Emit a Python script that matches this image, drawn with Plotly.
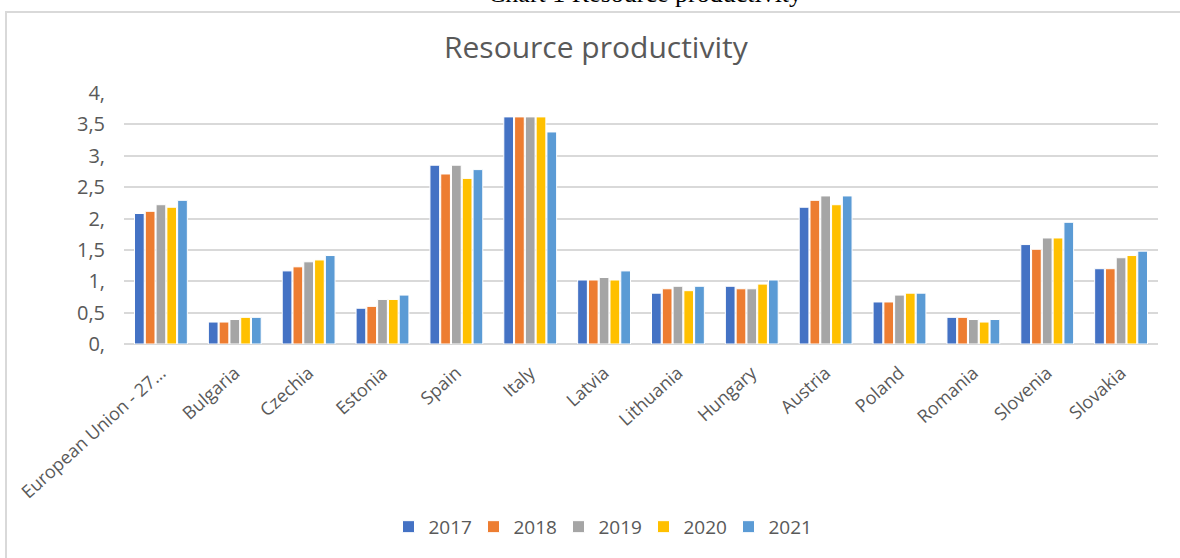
import plotly.graph_objects as go

# Resource productivity by country, 2017-2021
countries = ["European Union - 27…", "Bulgaria", "Czechia", "Estonia", "Spain", "Italy",
             "Latvia", "Lithuania", "Hungary", "Austria", "Poland", "Romania",
             "Slovenia", "Slovakia"]
years = ["2017", "2018", "2019", "2020", "2021"]

v2017 = [2.08, 0.35, 1.165, 0.57, 2.85, 3.62, 1.02, 0.81, 0.92, 2.18, 0.67, 0.425, 1.585, 1.20]
v2018 = [2.115, 0.35, 1.23, 0.60, 2.71, 3.62, 1.02, 0.88, 0.88, 2.29, 0.67, 0.425, 1.51, 1.20]
v2019 = [2.22, 0.39, 1.31, 0.71, 2.85, 3.62, 1.06, 0.92, 0.88, 2.36, 0.78, 0.39, 1.69, 1.375]
v2020 = [2.18, 0.425, 1.34, 0.71, 2.64, 3.62, 1.02, 0.85, 0.955, 2.22, 0.81, 0.35, 1.69, 1.41]
v2021 = [2.29, 0.425, 1.41, 0.78, 2.78, 3.38, 1.165, 0.92, 1.02, 2.36, 0.81, 0.39, 1.94, 1.48]

series = [v2017, v2018, v2019, v2020, v2021]
colors = ["#4472C4", "#ED7D31", "#A5A5A5", "#FFC000", "#5B9BD5"]

y_ticks = [0, 0.5, 1, 1.5, 2, 2.5, 3, 3.5, 4]
y_ticktext = ["0,", "0,5", "1,", "1,5", "2,", "2,5", "3,", "3,5", "4,"]

W, H = 1180, 558
L, R, T, B = 124, 22, 93, 211
pw, ph = W - L - R, H - T - B


def px_x(x):
    return (x - L) / pw


def px_y(y):
    return (H - B - y) / ph


text_col = "#595959"
grid_col = "#D9D9D9"

fig = go.Figure()
for name, vals, col in zip(years, series, colors):
    fig.add_trace(go.Bar(
        x=countries, y=vals, name=name,
        marker=dict(color=col, line=dict(color="white", width=1)),
    ))

fig.update_layout(
    width=W, height=H,
    margin=dict(l=L, r=R, t=T, b=B),
    paper_bgcolor="white", plot_bgcolor="white",
    barmode="group", bargap=0.27, bargroupgap=0.1,
    font=dict(family="Open Sans", color=text_col, size=18),
    showlegend=True,
    legend=dict(
        orientation="h", x=px_x(601), y=px_y(532),
        xanchor="center", yanchor="middle",
        font=dict(size=19, color=text_col),
        itemwidth=30, traceorder="normal",
        entrywidth=40, entrywidthmode="pixels",
    ),
)

fig.update_yaxes(
    range=[0, 4.001], tickvals=y_ticks, ticktext=y_ticktext,
    showgrid=True, gridcolor=grid_col, gridwidth=1.5,
    zeroline=True, zerolinecolor=grid_col, zerolinewidth=1.5,
    showline=False, ticks="", ticklabelstandoff=18,
    tickfont=dict(size=20, color=text_col),
)
fig.update_xaxes(
    tickangle=-42, showline=False, showgrid=False, ticks="",
    ticklabelstandoff=14,
    tickfont=dict(size=18, color=text_col),
)

# chart title
fig.add_annotation(
    text="Resource productivity", xref="paper", yref="paper",
    x=px_x(596), y=px_y(46), xanchor="center", yanchor="middle",
    showarrow=False, font=dict(size=30, color=text_col, family="Open Sans"),
)

# document caption above the chart frame
fig.add_annotation(
    text="Chart 1 Resource productivity", xref="paper", yref="paper",
    x=px_x(645), y=px_y(9), xanchor="center", yanchor="bottom",
    showarrow=False, font=dict(size=26, color="black", family="Liberation Serif"),
)

# chart frame
fig.add_shape(
    type="rect", xref="paper", yref="paper",
    x0=px_x(6), x1=px_x(1190), y0=px_y(570), y1=px_y(11),
    line=dict(color=grid_col, width=2), fillcolor="rgba(0,0,0,0)", layer="below",
)

fig.write_html("out.html")
